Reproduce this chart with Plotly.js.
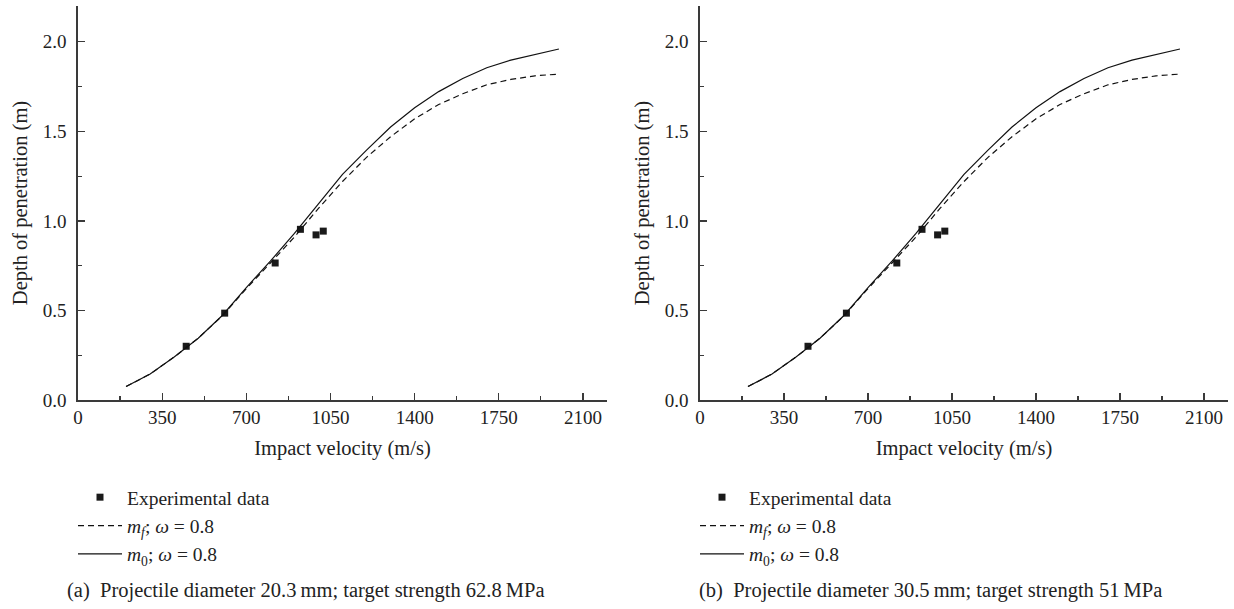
<!DOCTYPE html>
<html>
<head>
<meta charset="utf-8">
<script src="https://cdn.plot.ly/plotly-3.0.1.min.js"></script>
<style>html,body{margin:0;padding:0;background:#fff;}#chart{width:1234px;height:609px;}</style>
</head>
<body>
<div id="chart"></div>
<script>
// Impact velocity grid (m/s) for the model curves
const velocity = [200,300,400,500,600,700,800,900,1000,1100,1200,1300,1400,1500,1600,1700,1800,1900,2000];
// m0; omega = 0.8 (solid)
const depthM0 = [0.075,0.145,0.24,0.345,0.472,0.628,0.775,0.93,1.095,1.26,1.395,1.524,1.632,1.722,1.795,1.855,1.898,1.93,1.96];
// mf; omega = 0.8 (dashed)
const depthMf = [0.075,0.145,0.24,0.345,0.47,0.622,0.765,0.91,1.07,1.22,1.355,1.47,1.57,1.65,1.71,1.76,1.79,1.81,1.82];
// Experimental data
const expVelocity = [450,610,820,925,990,1020];
const expDepth = [0.30,0.485,0.765,0.953,0.922,0.943];

const xTicks = [0,350,700,1050,1400,1750,2100];
const yTicks = [0.0,0.5,1.0,1.5,2.0];
const captions = ['(a)\u2002Projectile diameter 20.3\u2009mm; target strength 62.8\u2009MPa',
                  '(b)\u2002Projectile diameter 30.5\u2009mm; target strength 51\u2009MPa'];
const nameExp = 'Experimental data';
const nameMf = '<i>m</i><sub><i>f</i></sub>; <i>\u03C9</i> = 0.8';
const nameM0 = '<i>m</i><sub>0</sub>; <i>\u03C9</i> = 0.8';

const W = 1234, H = 609;
const FONT = 'Liberation Serif, Times New Roman, serif';
const AX = '#3a3a3a';

function panelTraces(xa, ya, leg) {
  return [
    {x: expVelocity, y: expDepth, type: 'scatter', mode: 'markers', name: nameExp,
     marker: {symbol: 'square', size: 7, color: '#1a1a1a'}, xaxis: xa, yaxis: ya, legend: leg},
    {x: velocity, y: depthMf, type: 'scatter', mode: 'lines', name: nameMf,
     line: {color: '#111', width: 1.2, dash: '6px,4px'}, xaxis: xa, yaxis: ya, legend: leg},
    {x: velocity, y: depthM0, type: 'scatter', mode: 'lines', name: nameM0,
     line: {color: '#111', width: 1.2}, xaxis: xa, yaxis: ya, legend: leg}
  ];
}

const data = [...panelTraces('x', 'y', 'legend'), ...panelTraces('x2', 'y2', 'legend2')];

function xAxis(d0, d1, anchor) {
  return {
    domain: [d0 / W, d1 / W], anchor: anchor, range: [0, 2200],
    tickvals: xTicks, ticktext: xTicks.map(String),
    ticks: 'inside', ticklen: 7, tickwidth: 1.2, tickcolor: AX,
    minor: {dtick: 175, tick0: 0, ticks: 'inside', ticklen: 4, tickwidth: 1.2, tickcolor: AX},
    showline: true, linecolor: AX, linewidth: 1.6, showgrid: false, zeroline: false,
    tickfont: {family: FONT, size: 19, color: '#222'},
    title: {text: 'Impact velocity (m/s)', font: {family: FONT, size: 20.5, color: '#222'}, standoff: 13},
    fixedrange: true
  };
}
function yAxis(anchor) {
  return {
    domain: [(H - 400) / H, (H - 6) / H], anchor: anchor, range: [0, 2.2],
    tickvals: yTicks, ticktext: yTicks.map(v => v.toFixed(1)),
    ticks: 'inside', ticklen: 7, tickwidth: 1.2, tickcolor: AX,
    minor: {dtick: 0.25, tick0: 0, ticks: 'inside', ticklen: 4, tickwidth: 1.2, tickcolor: AX},
    showline: true, linecolor: AX, linewidth: 1.6, showgrid: false, zeroline: false,
    ticklabelstandoff: 6,
    tickfont: {family: FONT, size: 19, color: '#222'},
    title: {text: 'Depth of penetration (m)', font: {family: FONT, size: 20.5, color: '#222'}, standoff: 9},
    fixedrange: true
  };
}
function legendAt(px) {
  return {x: px / W, xanchor: 'left', y: (H - 478) / H, yanchor: 'top',
          font: {family: FONT, size: 19.5, color: '#222'}, itemwidth: 44,
          bgcolor: 'rgba(0,0,0,0)', borderwidth: 0, tracegroupgap: 0};
}

const layout = {
  width: W, height: H,
  margin: {l: 0, r: 0, t: 0, b: 0},
  paper_bgcolor: '#fff', plot_bgcolor: '#fff',
  showlegend: true,
  xaxis: xAxis(78, 607, 'y'),
  yaxis: yAxis('x'),
  xaxis2: xAxis(700, 1228, 'y2'),
  yaxis2: yAxis('x2'),
  legend: legendAt(73),
  legend2: legendAt(695),
  annotations: [
    {text: captions[0], xref: 'paper', yref: 'paper', x: 65 / W, y: (H - 590) / H,
     xanchor: 'left', yanchor: 'middle', showarrow: false, font: {family: FONT, size: 20.5, color: '#222'}},
    {text: captions[1], xref: 'paper', yref: 'paper', x: 697 / W, y: (H - 590) / H,
     xanchor: 'left', yanchor: 'middle', showarrow: false, font: {family: FONT, size: 20.5, color: '#222'}}
  ]
};

Plotly.newPlot('chart', data, layout, {displayModeBar: false, staticPlot: true});
</script>
</body>
</html>
